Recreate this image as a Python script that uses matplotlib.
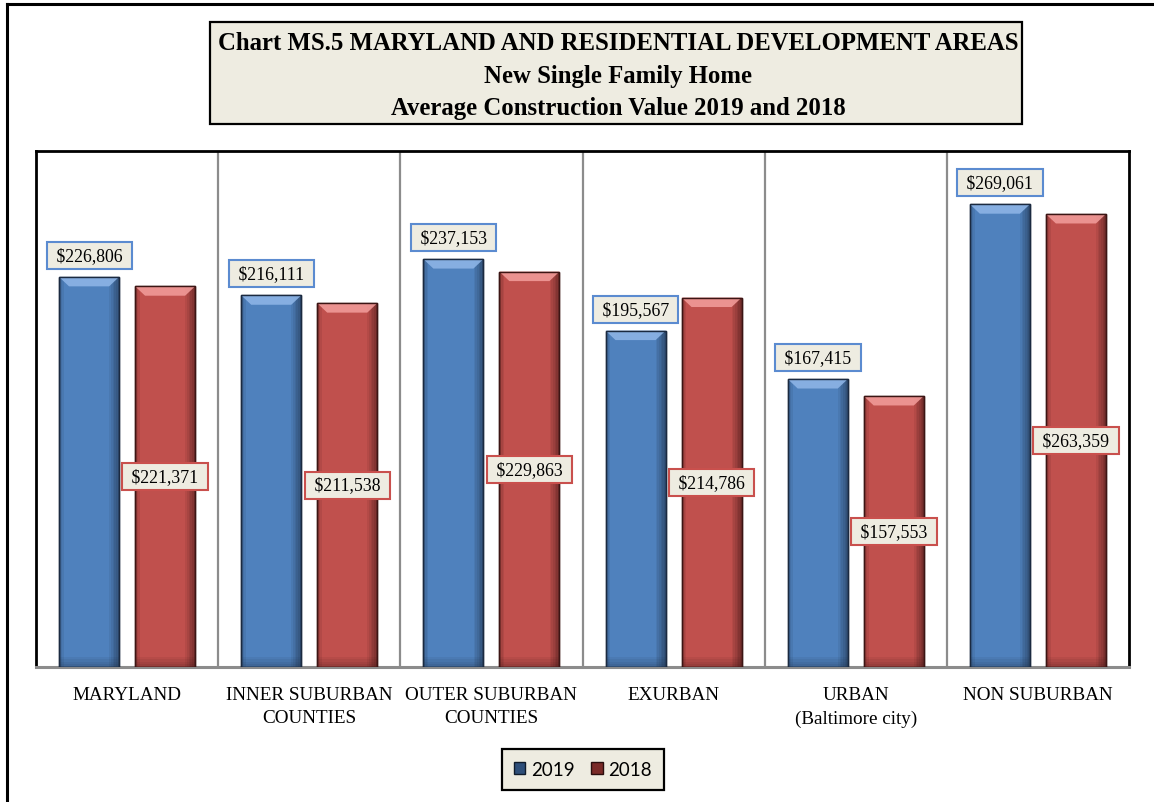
import matplotlib
matplotlib.use("Agg")
import matplotlib.pyplot as plt
from matplotlib.patches import Rectangle, Polygon, Patch
from matplotlib.lines import Line2D
import numpy as np

categories = ['MARYLAND', 'INNER SUBURBAN\nCOUNTIES', 'OUTER SUBURBAN\nCOUNTIES',
              'EXURBAN', 'URBAN\n(Baltimore city)', 'NON SUBURBAN']
v2019 = [226806, 216111, 237153, 195567, 167415, 269061]
v2018 = [221371, 211538, 229863, 214786, 157553, 263359]
series_names = ['2019', '2018']
title_lines = ['Chart MS.5 MARYLAND AND RESIDENTIAL DEVELOPMENT AREAS',
               'New Single Family Home',
               'Average Construction Value 2019 and 2018']

BLUE = '#4F81BD'
BLUE_LIGHT = '#8DB4E6'
BLUE_DARK = '#1B2A40'
RED = '#C0504D'
RED_LIGHT = '#F09A98'
RED_DARK = '#3C1514'
BEIGE = '#EEECE1'
SERIF = ['Liberation Serif', 'DejaVu Serif']

W, H = 1154, 803
fig = plt.figure(figsize=(W / 100, H / 100), dpi=100)
fig.patch.set_facecolor('white')

# outer frame (left and top visible)
fig.add_artist(Line2D([7 / W, 7 / W], [0, 1 - 5 / H], color='black', lw=2.2, transform=fig.transFigure))
fig.add_artist(Line2D([7 / W, 1], [1 - 5 / H, 1 - 5 / H], color='black', lw=2.2, transform=fig.transFigure))

# title box
fig.add_artist(Rectangle((210 / W, 1 - 125 / H), (1022 - 210) / W, (125 - 23) / H,
                         transform=fig.transFigure, facecolor=BEIGE, edgecolor='black', lw=1.6))
title_y = [43, 76, 109]
for line, yy in zip(title_lines, title_y):
    fig.text(618 / W, 1 - yy / H, line, ha='center', va='center', fontsize=17.8,
             fontweight='bold', family=SERIF)

ax = fig.add_axes([36 / W, 1 - 668 / H, (1129 - 36) / W, (668 - 152) / H])
n = len(categories)
x = np.arange(n)
bw = 0.33
off = 0.2086
ax.set_xlim(-0.5, n - 0.5)
ax.set_ylim(0, 300000)

# separators
for b in np.arange(0.5, n - 0.5, 1.0):
    ax.axvline(b, color='#8C8C8C', lw=1.6, zorder=1)


def shaded_bar(xc, v, base, light, dark):
    ax.bar(xc, v, bw, color=base, edgecolor=dark, lw=1.0, zorder=3)
    # right side shading
    nstrip = 6
    sw = 0.009
    for i in range(nstrip):
        ax.bar(xc + bw / 2 - sw * (i + 0.5), v, sw, color=dark,
               alpha=0.55 * (1 - i / nstrip), lw=0, zorder=4)
    # left side slight shading
    for i in range(3):
        ax.bar(xc - bw / 2 + sw * (i + 0.5), v, sw, color=dark,
               alpha=0.3 * (1 - i / 3), lw=0, zorder=4)
    # bottom shading
    bh = 1500
    for i in range(4):
        ax.bar(xc, bh, bw, bottom=bh * i, color=dark, alpha=0.3 * (1 - i / 4), lw=0, zorder=4)
    # top bevel
    bx = 0.055
    by = 5500
    poly = Polygon([(xc - bw / 2, v), (xc + bw / 2, v), (xc + bw / 2 - bx, v - by),
                    (xc - bw / 2 + bx, v - by)], closed=True, facecolor=light,
                   edgecolor='none', alpha=0.9, zorder=5)
    ax.add_patch(poly)
    ax.bar(xc, v, bw, color='none', edgecolor=dark, lw=1.0, zorder=6)


for i in range(n):
    shaded_bar(x[i] - off, v2019[i], BLUE, BLUE_LIGHT, BLUE_DARK)
    shaded_bar(x[i] + off, v2018[i], RED, RED_LIGHT, RED_DARK)

for i in range(n):
    ax.annotate(' ${:,} '.format(v2019[i]), (x[i] - off, v2019[i]), xytext=(0, 15.5),
                textcoords='offset points', ha='center', va='center', fontsize=12.8,
                family=SERIF, zorder=10,
                bbox=dict(boxstyle='square,pad=0.28', facecolor=BEIGE, edgecolor='#5B8BD0', lw=1.5))
    ax.text(x[i] + off, v2018[i] / 2, ' ${:,} '.format(v2018[i]), ha='center', va='center',
            fontsize=12.8, family=SERIF, zorder=10,
            bbox=dict(boxstyle='square,pad=0.28', facecolor=BEIGE, edgecolor='#C9504D', lw=1.5))

ax.set_xticks(x)
ax.set_xticklabels(categories, fontsize=13.8, family=SERIF, linespacing=1.45)
ax.tick_params(axis='x', length=0, pad=14)
ax.set_yticks([])
for s in ['left', 'top', 'right']:
    ax.spines[s].set_color('black')
    ax.spines[s].set_linewidth(2)
ax.spines['bottom'].set_color('#8C8C8C')
ax.spines['bottom'].set_linewidth(2.2)

handles = [Patch(facecolor='#2E4F7A', edgecolor='#101C2C', lw=1),
           Patch(facecolor='#7A2A28', edgecolor='#2A0E0E', lw=1)]
leg = fig.legend(handles, series_names, loc='center', bbox_to_anchor=(583 / W, 1 - 770.5 / H),
                 ncol=2, frameon=True, fancybox=False, handlelength=0.6, handleheight=0.6,
                 handletextpad=0.3, columnspacing=0.9, borderpad=0.65, borderaxespad=0,
                 prop={'family': ['Lato', 'DejaVu Sans'], 'size': 13.5})
leg.get_frame().set_facecolor(BEIGE)
leg.get_frame().set_edgecolor('black')
leg.get_frame().set_linewidth(1.6)
leg.get_frame().set_alpha(1)

fig.savefig('out.png', dpi=100)
